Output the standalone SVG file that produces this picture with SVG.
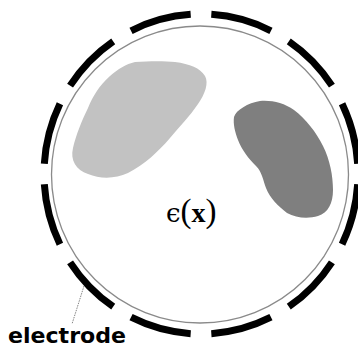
<svg xmlns="http://www.w3.org/2000/svg" width="358" height="347" viewBox="0 0 358 347">
<style>
.lbl{font-family:"DejaVu Sans","Liberation Sans",sans-serif;font-weight:bold;font-size:22px;fill:#000}
.math{font-family:"DejaVu Serif","Liberation Serif",serif;font-size:26px;fill:#000}
.par{font-family:"Liberation Serif",serif;font-size:33px;font-weight:normal}
</style>
<rect width="358" height="347" fill="#fff"/>
<g id="domain">
<circle cx="200" cy="174.5" r="148.5" fill="none" stroke="#8a8a8a" stroke-width="1.3"/>
</g>
<g id="inclusion-light">
<path d="M135,62 C150,61 165,61 175,62 C190,64 200,68 205,76 C209,83 205,94 198,104 C190,116 180,126 170,138 C158,152 145,164 128,173 C115,179 100,179 88,174 C76,170 70,160 73,148 C76,135 82,120 88,108 C93,96 99,86 110,76 C118,69 126,64 135,62 Z" fill="#c2c2c2"/>
</g>
<g id="inclusion-dark">
<path d="M234,117 C236,110 248,103 260,101 C272,100 284,103 294,110 C306,119 316,132 323,146 C330,160 333,176 333,190 C333,203 328,213 318,216 C308,219 296,218 287,213 C278,206 270,198 266,188 C263,180 262,172 256,166 C248,158 242,150 238,140 C235,132 233,124 234,117 Z" fill="#7f7f7f"/>
</g>
<g id="electrodes">
<ellipse cx="201" cy="174" rx="157" ry="160" fill="none" stroke="#000" stroke-width="7" pathLength="360" stroke-dasharray="22.5 7.5" stroke-dashoffset="26.25"/>
</g>
<g id="connectors">
<line x1="84" y1="286" x2="72" y2="324" stroke="#666" stroke-width="0.8" stroke-dasharray="1.5 1"/>
</g>
<g id="label-electrode">
<text class="lbl" x="8" y="343" textLength="118" lengthAdjust="spacingAndGlyphs">electrode</text>
</g>
<g id="label-eps">
<text class="math" x="166" y="222">ϵ<tspan class="par">(</tspan><tspan font-family="Liberation Serif, serif" font-weight="bold" font-size="28px">x</tspan><tspan class="par">)</tspan></text>
</g>
</svg>
